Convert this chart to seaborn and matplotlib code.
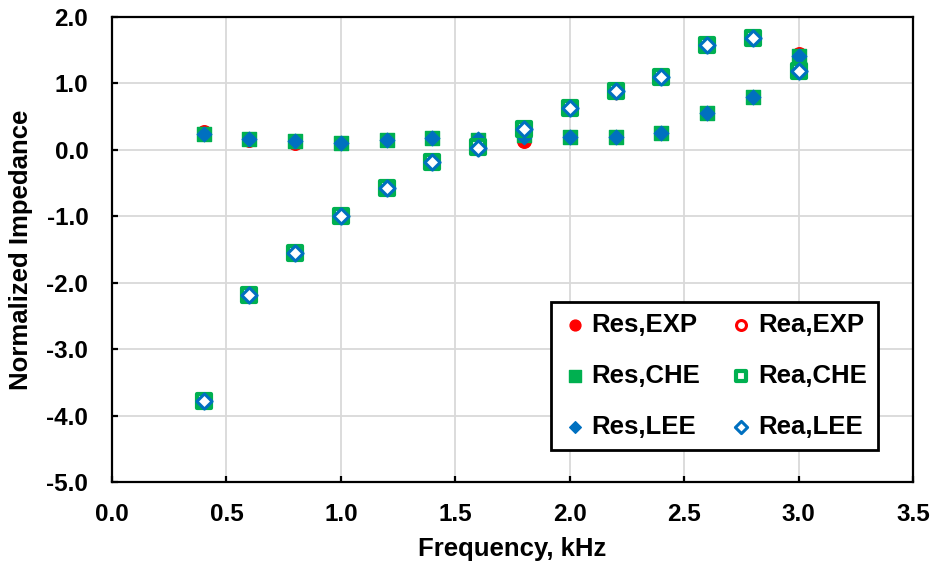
import matplotlib
matplotlib.use("Agg")
import matplotlib.pyplot as plt
import seaborn as sns
import pandas as pd

# frequencies, kHz
freq = [0.4, 0.6, 0.8, 1.0, 1.2, 1.4, 1.6, 1.8, 2.0, 2.2, 2.4, 2.6, 2.8, 3.0]

# normalized resistance
res_exp = [0.27, 0.15, 0.11, 0.11, 0.15, 0.18, 0.15, 0.13, 0.20, 0.20, 0.26, 0.56, 0.79, 1.45]
res_che = [0.24, 0.17, 0.14, 0.11, 0.15, 0.18, 0.15, 0.22, 0.20, 0.20, 0.26, 0.56, 0.80, 1.41]
res_lee = [0.24, 0.17, 0.14, 0.11, 0.15, 0.18, 0.17, 0.20, 0.20, 0.20, 0.25, 0.56, 0.80, 1.42]

# normalized reactance
rea_exp = [-3.78, -2.19, -1.55, -0.99, -0.58, -0.18, 0.03, 0.31, 0.63, 0.87, 1.09, 1.58, 1.69, 1.18]
rea_che = [-3.78, -2.19, -1.55, -0.99, -0.58, -0.18, 0.04, 0.32, 0.63, 0.88, 1.09, 1.58, 1.69, 1.18]
rea_lee = [-3.78, -2.19, -1.55, -0.99, -0.58, -0.18, 0.03, 0.31, 0.63, 0.88, 1.09, 1.58, 1.69, 1.18]

x_ticks = [0.0, 0.5, 1.0, 1.5, 2.0, 2.5, 3.0, 3.5]
y_ticks = [-5.0, -4.0, -3.0, -2.0, -1.0, 0.0, 1.0, 2.0]

RED, GREEN, BLUE = "#ff0000", "#00b050", "#0070c0"

sns.set_theme(style="white")
plt.rcParams["font.family"] = ["Liberation Sans", "DejaVu Sans"]
plt.rcParams["font.weight"] = "bold"
for k in ["text.color", "axes.labelcolor", "xtick.color", "ytick.color"]:
    plt.rcParams[k] = "black"

fig = plt.figure(figsize=(9.37, 5.67), dpi=100)
ax = fig.add_axes([0.1195, 0.150, 0.855, 0.820])

df = pd.DataFrame({"freq": freq,
                   "res_exp": res_exp, "res_che": res_che, "res_lee": res_lee,
                   "rea_exp": rea_exp, "rea_che": rea_che, "rea_lee": rea_lee})

# ===== series styles =====
series = [
    ("res_exp", "Res,EXP", "o", RED, RED, 95, 1.0),
    ("res_che", "Res,CHE", "s", GREEN, GREEN, 110, 1.0),
    ("res_lee", "Res,LEE", "D", BLUE, BLUE, 55, 1.0),
    ("rea_exp", "Rea,EXP", "o", "white", RED, 80, 2.2),
    ("rea_che", "Rea,CHE", "s", "white", GREEN, 95, 3.0),
    ("rea_lee", "Rea,LEE", "D", "white", BLUE, 60, 2.2),
]
draw_order = [0, 3, 1, 4, 2, 5]
for i in draw_order:
    col, lab, mk, fc, ec, s, lw = series[i]
    sns.scatterplot(data=df, x="freq", y=col, marker=mk, s=s, color=fc,
                    edgecolor=ec, linewidth=lw, label=lab, ax=ax, zorder=3 + i)

ax.set_xlim(0, 3.5)
ax.set_ylim(-5, 2)
ax.set_xticks(x_ticks)
ax.set_yticks(y_ticks)
ax.set_xticklabels([f"{v:.1f}" for v in x_ticks])
ax.set_yticklabels([f"{v:.1f}" for v in y_ticks])
ax.grid(True, color="#d9d9d9", linewidth=1.3, zorder=0)
ax.set_axisbelow(True)
for sp in ax.spines.values():
    sp.set_color("black")
    sp.set_linewidth(1.6)
ax.tick_params(direction="in", length=4, width=1.6, colors="black",
               labelsize=17.5, bottom=True, left=True)
ax.tick_params(axis="y", pad=17)
ax.tick_params(axis="x", pad=15)
ax.set_xlabel("Frequency, kHz", fontsize=18.5, fontweight="bold", labelpad=8)
ax.set_ylabel("Normalized Impedance", fontsize=18.5, fontweight="bold", labelpad=10)

handles, labels = ax.get_legend_handles_labels()
order = ["Res,EXP", "Res,CHE", "Res,LEE", "Rea,EXP", "Rea,CHE", "Rea,LEE"]
hmap = dict(zip(labels, handles))
leg = ax.legend([hmap[k] for k in order], order, ncol=2, loc="lower right",
                bbox_to_anchor=(0.956, 0.069), borderaxespad=0, fontsize=18.5,
                frameon=True, fancybox=False, edgecolor="black",
                labelspacing=1.05, handletextpad=0.15, columnspacing=1.1,
                handlelength=1.0, borderpad=0.42, markerscale=0.8)
leg.get_frame().set_linewidth(2.0)
leg.get_frame().set_alpha(1)
for t in leg.get_texts():
    t.set_fontweight("bold")

fig.savefig("out.png", dpi=100)
